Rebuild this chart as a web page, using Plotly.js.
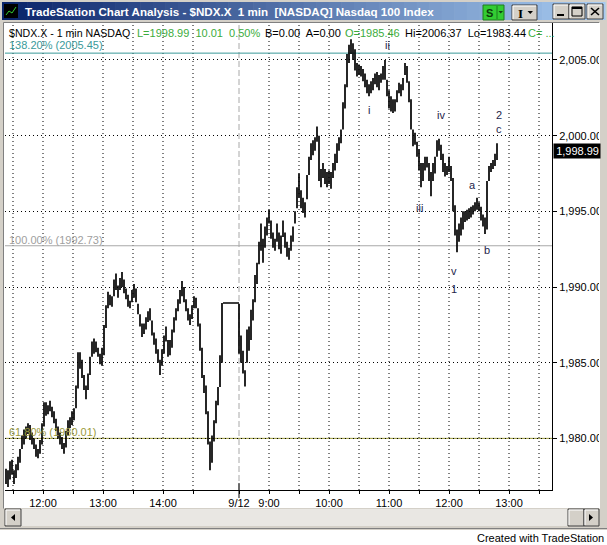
<!DOCTYPE html>
<html><head><meta charset="utf-8">
<script src="https://cdn.plot.ly/plotly-3.0.1.min.js"></script>
<style>html,body{margin:0;padding:0;background:#fff;}#chart{width:607px;height:545px;}</style>
</head><body><div id="chart"></div>
<script>
// ---------------- DATA ----------------
const day1Times = ["11:23","11:25","11:27","11:29","11:31","11:33","11:35","11:37","11:39","11:41","11:43","11:45","11:47","11:49","11:51","11:53","11:55","11:57","11:59",
"12:01","12:03","12:05","12:07","12:09","12:11","12:13","12:15","12:17","12:19","12:21","12:23","12:25","12:27","12:29","12:31","12:33","12:35","12:37","12:39","12:41","12:43","12:45","12:47","12:49","12:51","12:53","12:55","12:57","12:59",
"13:01","13:03","13:05","13:07","13:09","13:11","13:13","13:15","13:17","13:19","13:21","13:23","13:25","13:27","13:29","13:31","13:33","13:35","13:37","13:39","13:41","13:43","13:45","13:47","13:49","13:51","13:53","13:55","13:57","13:59",
"14:01","14:03","14:05","14:07","14:09","14:11","14:13","14:15","14:17","14:19","14:21","14:23","14:25","14:27","14:29","14:31","14:33","14:35","14:37","14:39","14:41","14:43","14:45","14:47","14:49","14:51","14:53","14:55","14:57","14:59",
"15:01","15:03","15:05","15:07","15:09","15:11","15:13","15:15"];
const day1Low = [1977.0,1976.8,1977.3,1977.6,1977.0,1977.4,1977.9,1978.4,1979.3,1979.6,1980.0,1980.3,1979.9,1979.6,1979.3,1978.8,1978.7,1979.0,1979.6,
1980.8,1981.5,1981.6,1981.8,1981.4,1981.0,1980.5,1980.0,1979.6,1979.3,1979.0,1979.4,1980.2,1980.7,1980.9,1981.2,1982.0,1983.3,1984.6,1984.0,1983.2,1982.6,1983.2,1984.2,1985.4,1985.6,1985.7,1985.4,1984.9,1984.8,
1985.5,1987.3,1988.6,1988.8,1988.7,1989.4,1989.8,1989.3,1989.8,1990.0,1989.6,1989.2,1988.7,1988.6,1989.0,1989.3,1989.0,1988.2,1987.4,1986.7,1986.9,1987.2,1987.7,1987.8,1986.8,1986.2,1985.6,1985.0,1984.2,1984.8,
1985.6,1986.4,1985.4,1985.5,1986.0,1987.0,1987.8,1988.4,1988.9,1989.4,1989.0,1988.4,1987.8,1987.5,1987.9,1988.6,1988.6,1987.4,1985.8,1984.0,1983.0,1981.6,1979.6,1977.9,1978.4,1979.8,1981.0,1982.2,1983.4,1985.0,
1988.95,1988.95,1988.95,1988.95,1988.95,1988.95,1988.95,1988.95];
const day1High = [1978.0,1977.9,1978.5,1978.6,1977.9,1978.3,1978.8,1979.3,1980.2,1980.6,1980.8,1981.0,1980.9,1980.4,1980.0,1979.6,1979.3,1979.9,1981.0,
1982.4,1982.4,1982.2,1982.5,1982.1,1981.8,1981.3,1980.8,1980.4,1980.1,1979.7,1980.5,1981.2,1981.4,1981.8,1982.0,1983.5,1985.7,1985.7,1985.2,1984.2,1983.5,1984.3,1985.4,1986.4,1986.6,1986.4,1986.0,1985.6,1986.0,
1987.5,1988.8,1989.7,1989.5,1989.4,1990.5,1990.9,1990.1,1990.6,1991.0,1990.5,1989.9,1989.5,1989.1,1989.8,1990.2,1989.9,1988.9,1988.2,1987.6,1987.6,1988.0,1988.4,1988.6,1987.8,1987.0,1986.6,1985.9,1985.2,1985.9,
1986.8,1987.4,1986.5,1986.5,1987.2,1988.0,1988.6,1989.2,1989.8,1990.4,1990.0,1989.2,1988.6,1988.2,1988.8,1989.4,1989.3,1988.6,1987.6,1986.0,1984.2,1983.5,1981.8,1979.8,1980.2,1981.2,1982.5,1983.4,1985.5,1988.95,
1988.95,1988.95,1988.95,1988.95,1988.95,1988.95,1988.95,1988.95];

const day2Times = ["08:30","08:32","08:34","08:36","08:38","08:40","08:42","08:44","08:46","08:48","08:50","08:52","08:54","08:56","08:58",
"09:00","09:02","09:04","09:06","09:08","09:10","09:12","09:14","09:16","09:18","09:20","09:22","09:24","09:26","09:28","09:30","09:32","09:34","09:36","09:38","09:40","09:42","09:44","09:46","09:48","09:50","09:52","09:54","09:56","09:58",
"10:00","10:02","10:04","10:06","10:08","10:10","10:12","10:14","10:16","10:18","10:20","10:22","10:24","10:26","10:28","10:30","10:32","10:34","10:36","10:38","10:40","10:42","10:44","10:46","10:48","10:50","10:52","10:54","10:56","10:58",
"11:00","11:02","11:04","11:06","11:08","11:10","11:12","11:14","11:16","11:18","11:20","11:22","11:24","11:26","11:28","11:30","11:32","11:34","11:36","11:38","11:40","11:42","11:44","11:46","11:48","11:50","11:52","11:54","11:56","11:58",
"12:00","12:02","12:04","12:06","12:08","12:10","12:12","12:14","12:16","12:18","12:20","12:22","12:24","12:26","12:28","12:30","12:32","12:34","12:36","12:38","12:40","12:42","12:44","12:46","12:48"];
const day2Low = [1985.6,1985.0,1984.3,1983.44,1985.0,1985.8,1986.5,1987.8,1989.0,1990.2,1991.5,1992.4,1991.6,1992.6,1993.4,
1994.2,1993.2,1992.6,1992.4,1993.0,1992.5,1992.2,1993.3,1992.6,1992.0,1991.8,1992.4,1993.0,1994.2,1995.2,1995.9,1995.2,1994.9,1994.6,1995.8,1997.4,1998.4,1998.7,1999.0,1999.6,1997.0,1996.6,1997.2,1996.8,1996.6,
1996.8,1996.5,1997.2,1997.7,1998.2,1999.0,1999.5,2000.4,2001.8,2003.2,2004.8,2005.4,2005.0,2004.3,2003.9,2004.0,2003.9,2003.6,2003.2,2002.8,2002.6,2002.8,2003.0,2003.4,2003.2,2003.0,2003.5,2003.7,2003.7,2002.6,
2001.8,2001.6,2001.5,2001.6,2002.2,2002.8,2002.6,2003.0,2004.0,2003.5,2002.2,2000.4,1999.3,1999.4,1998.6,1997.7,1996.6,1997.0,1997.7,1997.9,1997.0,1996.0,1997.0,1997.5,1998.6,1999.0,1998.4,1997.6,1997.3,1997.4,
1997.6,1997.0,1995.0,1993.4,1992.3,1993.0,1993.4,1993.8,1994.3,1994.4,1994.5,1994.6,1994.8,1995.0,1995.1,1995.0,1994.4,1994.0,1993.5,1993.8,1997.0,1997.6,1997.8,1998.0,1998.4];
const day2High = [1988.9,1986.8,1985.8,1984.5,1987.2,1987.4,1988.5,1989.2,1990.8,1991.6,1993.0,1994.2,1993.2,1994.0,1994.6,
1995.1,1994.4,1993.6,1993.2,1994.2,1993.6,1993.4,1994.4,1993.6,1993.0,1992.6,1993.4,1994.0,1995.0,1996.6,1997.5,1996.4,1995.9,1995.6,1997.4,1998.6,1999.5,1999.7,1999.9,2000.6,2000.0,1997.8,1998.2,1997.8,1997.6,
1997.7,1997.6,1998.2,1998.8,1999.5,1999.9,2000.4,2002.2,2003.4,2005.4,2006.0,2006.37,2006.1,2005.7,2004.8,2004.7,2004.6,2004.4,2004.1,2003.7,2003.4,2003.6,2003.8,2004.1,2004.2,2004.0,2004.1,2004.6,2005.0,2003.7,
2003.0,2002.6,2002.4,2002.4,2003.0,2003.5,2003.4,2003.8,2004.8,2004.6,2003.6,2002.4,2000.4,2000.2,1999.6,1999.1,1998.2,1998.2,1998.6,1998.6,1998.2,1997.6,1998.2,1998.6,1999.7,1999.8,1999.4,1998.8,1998.2,1998.0,
1998.6,1998.0,1997.2,1995.4,1993.8,1994.2,1994.6,1995.0,1995.0,1995.1,1995.2,1995.3,1995.4,1995.6,1995.9,1995.6,1995.3,1994.8,1994.6,1997.0,1998.0,1998.2,1998.4,1998.8,1999.5];

const refLevels = [2005.45, 1992.73, 1980.01];
const refLabels = ["138.20% (2005.45)", "100.00% (1992.73)", "61.80% (1980.01)"];
const yTicks = [1980, 1985, 1990, 1995, 2000, 2005];
const day1TickTimes = ["11:30","12:00","12:30","13:00","13:30","14:00","14:30"];
const day1TickText  = ["","12:00","","13:00","","14:00",""];
const day2TickTimes = ["08:30","09:00","09:30","10:00","10:30","11:00","11:30","12:00","12:30","13:00","13:30"];
const day2TickText  = ["9/12","9:00","","10:00","","11:00","","12:00","","13:00",""];
const waveLabels = ["ii","i","iii","iv","v","1","a","b","2","c"];
const waveTimes  = ["10:58","10:40","11:30","11:52","12:05","12:05","12:23","12:38","12:50","12:50"];
const wavePrices = [2005.99,2001.70,1995.22,2001.37,1991.06,1989.87,1996.74,1992.45,2001.37,2000.44];
const lastPrice = 1998.99;
const headerParts = [
  {text:"$NDX.X - 1 min NASDAQ", color:"#000000", X:7, size:10.6},
  {text:"L=1998.99\u00a0 10.01\u00a0 0.50%", color:"#3cac3c", X:135, size:11},
  {text:"B=0.00\u00a0 A=0.00", color:"#000000", X:263, size:11},
  {text:"O=1985.46", color:"#3cac3c", X:343, size:11},
  {text:"Hi=2006.37\u00a0 Lo=1983.44", color:"#000000", X:403, size:11},
  {text:"C= ...", color:"#3cac3c", X:526, size:11}
];

// ---------------- GEOMETRY HELPERS ----------------
const W = 607, H = 545, ML = 5, MR = 55, MT = 23, MB = 55;
const PW = W - ML - MR, PH = H - MT - MB;
const fx = X => (X - ML) / PW;
const fy = Y => (H - MB - Y) / PH;
const FONT = "Liberation Sans, Arial, sans-serif";

function mins(t) { const p = t.split(":"); return (+p[0]) * 60 + (+p[1]); }
function idx(t, day) { return day === 1 ? mins(t) - 720 : 196 + mins(t) - 510; }

// ---------------- BARS ----------------
const bx = [], by = [];
function addBars(times, hi, lo, day) {
  for (let k = 0; k < times.length; k++) {
    const x = idx(times[k], day);
    if (hi[k] - lo[k] < 0.05) { bx.push(x - 1, x + 1, null); by.push(hi[k], hi[k], null); }
    else { bx.push(x, x, null); by.push(lo[k], hi[k], null); }
  }
}
addBars(day1Times, day1High, day1Low, 1);
addBars(day2Times, day2High, day2Low, 2);

const traces = [{
  type: "scatter", mode: "lines", x: bx, y: by, connectgaps: false,
  line: {color: "#000000", width: 1.7}, hoverinfo: "skip", showlegend: false
}];

// ---------------- SHAPES ----------------
const shapes = [];
function rectP(X0, Y0, X1, Y1, fill, lineColor, lw) {
  shapes.push({type: "rect", xref: "paper", yref: "paper", x0: fx(X0), x1: fx(X1), y0: fy(Y1), y1: fy(Y0),
    fillcolor: fill, line: {width: lineColor ? (lw || 1) : 0, color: lineColor || "rgba(0,0,0,0)"}, layer: "above"});
}
function lineP(X0, Y0, X1, Y1, color, w) {
  shapes.push({type: "line", xref: "paper", yref: "paper", x0: fx(X0), x1: fx(X1), y0: fy(Y0), y1: fy(Y1),
    line: {color: color, width: w || 1}, layer: "above"});
}
function triP(pts, color) {
  let d = "M" + pts.map(p => fx(p[0]) + "," + fy(p[1])).join(" L") + " Z";
  shapes.push({type: "path", xref: "paper", yref: "paper", path: d, fillcolor: color, line: {width: 0}, layer: "above"});
}
function bevel(X0, Y0, X1, Y1, fill) {
  rectP(X0, Y0, X1, Y1, fill || "#d4d0c8", "#404040", 1);
  lineP(X0 + 1, Y0 + 1, X1 - 1, Y0 + 1, "#ffffff", 1);
  lineP(X0 + 1, Y0 + 1, X0 + 1, Y1 - 1, "#ffffff", 1);
}

// gray window frame around the white chart panel
rectP(0, 0, 607, 23, "#d4d0c8");
rectP(0, 23, 4, 530, "#d4d0c8");
rectP(599, 23, 607, 530, "#d4d0c8");
rectP(0, 508, 607, 530, "#d4d0c8");
// title bar gradient
const c0 = [10, 36, 106], c1 = [166, 202, 240], steps = 48;
for (let s = 0; s < steps; s++) {
  const t = s / (steps - 1);
  const c = c0.map((v, i) => Math.round(v + (c1[i] - v) * t));
  const xa = 2 + (603 * s) / steps, xb = 2 + (603 * (s + 1)) / steps + 0.6;
  rectP(xa, 2, xb, 20, "rgb(" + c.join(",") + ")");
}
// title icon
rectP(4, 4, 18, 18, "#000000");
lineP(6, 15, 9, 11, "#33cc33", 1); lineP(9, 11, 12, 13, "#33cc33", 1); lineP(12, 13, 16, 7, "#33cc33", 1);
// S button
rectP(483, 5, 504, 20, "#33cc33", "#1e7a1e", 1);
lineP(497, 6, 497, 19, "#1e7a1e", 1);
triP([[498.5, 11], [503, 11], [500.75, 13.5]], "#104010");
// I button
bevel(512, 5, 537, 20);
triP([[527.5, 11], [533, 11], [530.25, 14]], "#000000");
// min / max / close
bevel(553, 4, 569, 19); bevel(569, 4, 585, 19); bevel(587, 4, 603, 19);
rectP(557, 14, 564, 16, "#000000");
rectP(572, 7, 582, 16, "rgba(0,0,0,0)", "#000000", 1); lineP(572, 8, 582, 8, "#000000", 2);
lineP(591, 8, 599, 15, "#000000", 1.6); lineP(599, 8, 591, 15, "#000000", 1.6);
// chart panel sunken border
lineP(3.5, 22.5, 599.5, 22.5, "#808080", 1); lineP(3.5, 22.5, 3.5, 508.5, "#808080", 1);
lineP(599.5, 22.5, 599.5, 508.5, "#ffffff", 1);
// scrollbar
rectP(21, 509, 584, 526, "#e9e7e3");
bevel(5, 509, 21, 526);
triP([[11, 517.5], [15, 514], [15, 521]], "#000000");
bevel(568, 509, 584, 526);
bevel(584, 509, 599, 526);
triP([[593, 517.5], [589, 514], [589, 521]], "#000000");
lineP(0, 528.5, 607, 528.5, "#808080", 1);

// x gridlines (dotted) and day separator
const gridIdx = day1TickTimes.map(t => idx(t, 1)).concat(day2TickTimes.slice(1).map(t => idx(t, 2)));
gridIdx.forEach(v => shapes.push({type: "line", xref: "x", yref: "paper", x0: v, x1: v, y0: 0, y1: 1,
  line: {color: "#000000", width: 1, dash: "1px,3px"}, layer: "below"}));
const sep = idx(day2TickTimes[0], 2);
shapes.push({type: "line", xref: "x", yref: "paper", x0: sep, x1: sep, y0: 0, y1: 1,
  line: {color: "#a8a8a8", width: 1, dash: "6px,3px"}, layer: "below"});
shapes.push({type: "line", xref: "x", yref: "paper", x0: sep, x1: sep, y0: fy(498), y1: fy(483),
  line: {color: "#000000", width: 1}, layer: "above"});

// reference levels
const refColors = ["#3a9a9a", "#a8a8a8", "#9a9a3a"];
refLevels.forEach((v, i) => shapes.push({type: "line", xref: "paper", yref: "y", x0: 0, x1: 1, y0: v, y1: v,
  line: {color: refColors[i], width: 1}, layer: "below"}));

// ---------------- ANNOTATIONS ----------------
const ann = [];
function textP(X, Y, text, color, size, anchor, extra) {
  ann.push(Object.assign({xref: "paper", yref: "paper", x: fx(X), y: fy(Y), text: text, showarrow: false,
    xanchor: anchor || "left", yanchor: "middle", font: {family: FONT, size: size || 11, color: color}}, extra || {}));
}
textP(23, 11.5, "TradeStation Chart Analysis - $NDX.X\u00a0 1 min\u00a0 [NASDAQ] Nasdaq 100 Index", "#ffffff", 12, "left",
  {font: {family: FONT, size: 11.6, color: "#ffffff", weight: "bold"}});
textP(490, 13, "<b>S</b>", "#0b3a0b", 11, "center");
textP(520, 13, "<b>I</b>", "#000000", 12, "center", {font: {family: "Liberation Serif, serif", size: 13, color: "#000"}});
headerParts.forEach(p => textP(p.X, 33, p.text, p.color, p.size));
const refTextY = [45, 240, 432];
const refTextColors = ["#3a9a9a", "#a0a0a0", "#9a9a3a"];
refLabels.forEach((t, i) => textP(7, refTextY[i], t, refTextColors[i], 11));
textP(606, 538, "Created with TradeStation", "#000000", 11, "right");

waveLabels.forEach((t, i) => ann.push({xref: "x", yref: "y", x: idx(waveTimes[i], 2), y: wavePrices[i], text: t,
  showarrow: false, xanchor: "center", yanchor: "middle", font: {family: FONT, size: 11, color: "#24244a"}}));

ann.push({xref: "paper", yref: "y", x: 1, y: lastPrice, xanchor: "left", yanchor: "middle", xshift: 1,
  text: "1,998.99", showarrow: false, bgcolor: "#000000", borderpad: 1, width: 44, align: "right",
  font: {family: FONT, size: 11, color: "#ffffff"}});

// ---------------- AXES ----------------
const xTickVals = day1TickTimes.map(t => idx(t, 1)).concat(day2TickTimes.map(t => idx(t, 2)));
const xTickText = day1TickText.concat(day2TickText);

const layout = {
  width: W, height: H, margin: {l: ML, r: MR, t: MT, b: MB, pad: 0},
  paper_bgcolor: "#ffffff", plot_bgcolor: "#ffffff", showlegend: false,
  font: {family: FONT, size: 11, color: "#000"},
  xaxis: {range: [-38, 509], tickmode: "array", tickvals: xTickVals, ticktext: xTickText,
    ticks: "outside", ticklen: 3, tickcolor: "#000", tickwidth: 1, showgrid: false, zeroline: false,
    showline: true, linecolor: "#000", linewidth: 1, tickfont: {family: FONT, size: 11, color: "#000"},
    fixedrange: true},
  yaxis: {range: [1976.60, 2007.44], side: "right", tickmode: "array", tickvals: yTicks, tickformat: ",.2f",
    ticks: "outside", ticklen: 4, tickcolor: "#000", showgrid: true, gridcolor: "#000", gridwidth: 1,
    griddash: "1px,3px", zeroline: false, showline: true, linecolor: "#000", linewidth: 1,
    tickfont: {family: FONT, size: 11, color: "#000"}, fixedrange: true},
  shapes: shapes, annotations: ann
};

Plotly.newPlot("chart", traces, layout, {staticPlot: true, displayModeBar: false});
</script></body></html>
